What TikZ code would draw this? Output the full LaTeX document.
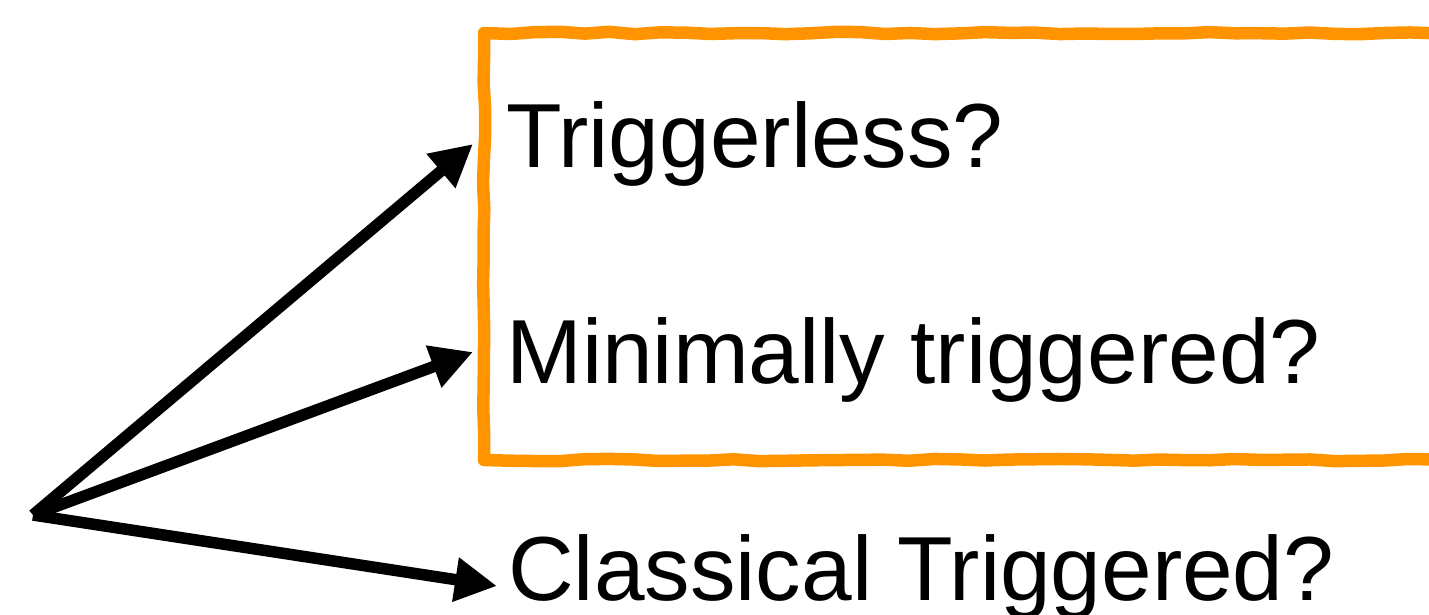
\documentclass[tikz,border=0pt]{standalone}
\usepackage{fontspec}
\setmainfont{Liberation Sans}
\usetikzlibrary{arrows.meta,decorations.pathmorphing}
\definecolor{boxorange}{RGB}{255,148,0}
\tikzset{
  label/.style={anchor=base west, inner sep=0pt, font=\fontsize{91}{100}\selectfont},
  arr/.style={line width=11.5pt, -{Triangle[length=42pt,width=42pt]}},
  sketchbox/.style={draw=boxorange, line width=12.5pt, line cap=round, line join=round,
    decorate, decoration={random steps, segment length=25pt, amplitude=1.2pt}}
}
\begin{document}
\begin{tikzpicture}[x=1pt,y=-1pt]
\useasboundingbox (0,0) rectangle (1429,615);
\clip (0,0) rectangle (1429,615);
\pgfmathsetseed{7}
\draw[sketchbox] (1460,33) -- (484,33) -- (484,460) -- (1460,460);
\node[label] (t1) at (506,167) {Triggerless?};
\node[label] (t2) at (506,383) {Minimally triggered?};
\node[label] (t3) at (508,600) {Classical Triggered?};
\coordinate (o) at (33,515);
\coordinate (e1) at (473,144);
\coordinate (e2) at (473,352);
\coordinate (e3) at (497,586);
\draw[arr] (o) -- (e1);
\draw[arr] (o) -- (e2);
\draw[arr] (o) -- (e3);
\end{tikzpicture}
\end{document}
